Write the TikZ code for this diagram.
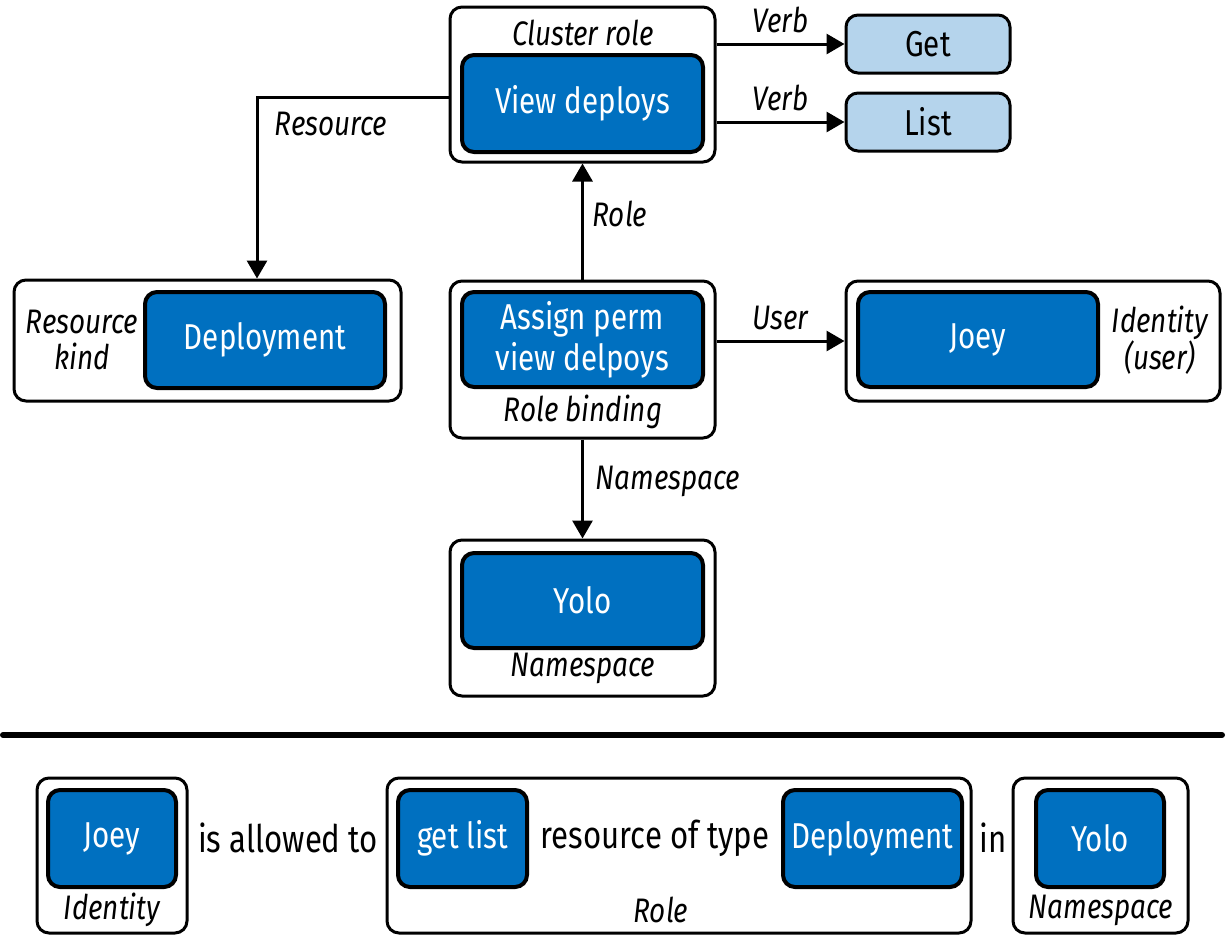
\documentclass[tikz,border=0pt]{standalone}
\usepackage{fontspec}
\setmainfont[FakeStretch=0.82]{Fira Sans}
\usetikzlibrary{arrows.meta}
\definecolor{kblue}{RGB}{0,112,192}
\definecolor{klight}{RGB}{181,212,236}
\begin{document}
\begin{tikzpicture}[x=1pt, y=-1pt,
    outer/.style={draw, line width=3pt, rounded corners=12pt, fill=white, inner sep=0pt},
    inner/.style={draw, line width=4pt, rounded corners=12pt, fill=kblue, text=white, inner sep=0pt, align=center, font=\fontsize{36}{41}\selectfont},
    verbbox/.style={draw, line width=3pt, rounded corners=12pt, fill=klight, inner sep=0pt, minimum width=164pt, minimum height=58pt, font=\fontsize{36}{40}\selectfont},
    lbl/.style={inner sep=0pt, align=center, font=\fontsize{34}{36}\selectfont\itshape},
    txt/.style={inner sep=0pt, font=\fontsize{38}{40}\selectfont},
    link/.style={line width=3pt, -{Triangle[length=18pt, width=20pt]}}]
  \useasboundingbox (0,0) rectangle (1226,938);

  \node[outer, minimum width=265pt, minimum height=155pt] (cr) at (582.5,84.5) {};
  \node[inner, minimum width=241pt, minimum height=97pt] (view) at (582.5,103.5) {View deploys};
  \node[lbl] (crl) at (583,33) {Cluster role};
  \node[verbbox] (get) at (928,44) {Get};
  \node[verbbox] (list) at (928,122) {List};

  \node[outer, minimum width=387pt, minimum height=121pt] (rk) at (207.5,340.5) {};
  \node[inner, minimum width=240pt, minimum height=96pt] (dep) at (265,340) {Deployment};
  \node[lbl] (rkl) at (82,340) {Resource\\kind};

  \node[outer, minimum width=265pt, minimum height=157pt] (rb) at (582.5,359.5) {};
  \node[inner, minimum width=241pt, minimum height=95pt] (assign) at (582.5,339.5) {Assign perm\\view delpoys};
  \node[lbl] (rbl) at (583,412) {Role binding};

  \node[outer, minimum width=374pt, minimum height=120pt] (idu) at (1033,341) {};
  \node[inner, minimum width=240pt, minimum height=95pt] (joey) at (978,339.5) {Joey};
  \node[lbl] (idul) at (1160,340) {Identity\\(user)};

  \node[outer, minimum width=265pt, minimum height=156pt] (ns) at (582.5,618) {};
  \node[inner, minimum width=241pt, minimum height=95pt] (yolo) at (582.5,600.5) {Yolo};
  \node[lbl] (nsl) at (583,668) {Namespace};

  \coordinate (rbend) at (257,97);
  \draw[link] (cr.west |- rbend) -- (rbend) -- (rbend |- rk.north);
  \node[lbl] at (331,124) {Resource};
  \draw[link] (cr.east |- get.west) -- (get.west) node[lbl, midway, above=10pt] {Verb};
  \draw[link] (cr.east |- list.west) -- (list.west) node[lbl, midway, above=10pt] {Verb};
  \draw[link] (rb.north) -- (cr.south);
  \node[lbl] at (620,214) {Role};
  \draw[link] (rb.east |- idu.west) -- (idu.west) node[lbl, midway, above=10pt] {User};
  \draw[link] (rb.south) -- (ns.north);
  \node[lbl] at (668,481) {Namespace};

  \coordinate (sepl) at (3,735);
  \coordinate (sepr) at (1222,735);
  \draw[line width=6pt, line cap=round] (sepl) -- (sepr);

  \node[outer, minimum width=150pt, minimum height=155pt] (idb) at (112,855.5) {};
  \node[inner, minimum width=128pt, minimum height=97pt] (joey2) at (112,838.5) {Joey};
  \node[lbl] (idbl) at (112,910) {Identity};
  \node[txt] (allowed) at (288,838) {is allowed to};

  \node[outer, minimum width=584pt, minimum height=155pt] (roleb) at (679,855.5) {};
  \node[inner, minimum width=129pt, minimum height=97pt] (getlist) at (462.5,838.5) {get list};
  \node[txt] (restype) at (655,838) {resource of type};
  \node[inner, minimum width=179pt, minimum height=97pt] (dep2) at (872.5,838.5) {Deployment};
  \node[lbl] (rolebl) at (661,910) {Role};
  \node[txt] (inw) at (993,838) {in};

  \node[outer, minimum width=175pt, minimum height=155pt] (nsb) at (1100.5,855.5) {};
  \node[inner, minimum width=128pt, minimum height=97pt] (yolo2) at (1100,838.5) {Yolo};
  \node[lbl] (nsbl) at (1101,910) {Namespace};
\end{tikzpicture}
\end{document}
